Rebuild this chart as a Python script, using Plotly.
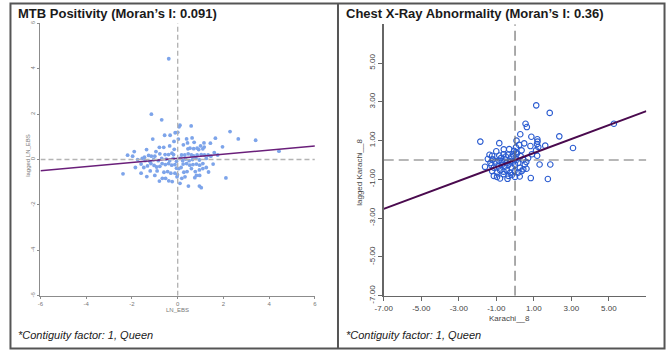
import plotly.graph_objects as go

W, H = 668, 358


def fx(p):
    return p / W


def fy(p):
    return 1 - p / H


# ---------------- data ----------------
left_x = [-0.39, -1.15, -0.70, 0.10, 0.06, 0.59, -0.11, 0.00, -0.57, -0.33,
          2.29, 2.65, 3.41, -1.09, 0.39, 0.63, 1.65, 0.03, -0.16, 0.43,
          0.72, 1.15, 1.43, 1.96, 4.43, -0.80, -0.61, -1.36, 0.45, 0.54,
          0.70, 0.85, 0.92, 1.10, 1.16, 1.00, -0.25, -0.18, -0.40, -0.55,
          -0.78, -1.00, -1.15, -1.27, -1.45, -1.55, -2.19, -1.97, 0.17, 0.31,
          0.46, 0.60, 0.70, 0.85, 1.03, 1.17, 1.33, -2.39, -1.60, -1.48,
          -1.32, -1.17, -1.03, -0.92, -0.78, -0.68, -0.54, -0.40, -0.26, -0.12,
          0.24, 0.39, 0.53, 0.67, 0.82, 0.96, 1.10, -1.20, -0.90, -0.60,
          -0.44, -0.30, -0.12, -0.01, 0.27, 0.41, 0.77, 0.95, 1.10, -0.67,
          -0.53, -0.39, -0.24, -0.03, 0.18, 0.32, 0.82, 0.96, 2.11, 0.47,
          0.95, 1.03, -1.75, -1.42, -1.22, -1.05, -0.85, -0.70, -0.50, -0.35,
          -0.20, -0.05, 0.10, 0.22, 0.35, 0.50, 0.65, 0.80, 0.95, 1.25,
          1.45, 1.60, 1.75, -1.85, -1.60, -1.35, -1.00, -0.80, 0.05, 0.15,
          -0.05, 0.60, 0.75, 1.25, 1.35, 1.55, -0.15, -0.35, 0.25, -1.90,
          -0.95, 0.10]
left_y = [4.44, 2.00, 1.75, 1.51, 1.44, 1.48, 1.18, 1.20, 1.07, 1.07,
          1.23, 0.91, 0.85, 0.90, 0.91, 0.95, 0.94, 0.90, 0.80, 0.73,
          0.76, 0.73, 0.72, 0.56, 0.37, 0.54, 0.54, 0.44, 0.47, 0.50,
          0.48, 0.50, 0.44, 0.47, 0.55, 0.60, 0.28, 0.22, 0.22, 0.22,
          0.25, 0.15, 0.15, 0.18, 0.10, 0.05, 0.19, 0.15, 0.20, 0.20,
          0.25, 0.20, 0.16, 0.20, 0.22, 0.20, 0.20, -0.63, -0.20, -0.35,
          -0.28, -0.18, -0.26, -0.33, -0.30, -0.18, -0.22, -0.18, -0.25, -0.22,
          -0.20, -0.18, -0.25, -0.22, -0.20, -0.25, -0.18, -0.50, -0.50, -0.56,
          -0.53, -0.60, -0.60, -0.67, -0.56, -0.53, -0.53, -0.46, -0.40, -0.83,
          -0.83, -0.94, -0.97, -0.76, -0.83, -0.76, -0.70, -0.70, -0.81, -1.17,
          -1.17, -1.24, 0.00, -0.05, -0.08, 0.00, -0.05, 0.05, 0.02, -0.05,
          0.05, -0.08, 0.05, -0.05, 0.02, -0.05, 0.00, 0.05, -0.02, 0.05,
          0.15, 0.30, 0.20, -0.35, -0.60, -0.75, -0.70, -0.95, -0.40, -0.35,
          -0.38, -0.40, -0.80, -0.35, -0.55, -0.20, 0.45, 0.60, 0.65, 0.35,
          0.35, -1.05]

right_x = [1.13, 1.85, 0.56, 0.63, 5.27, 0.28, 0.87, 2.36, -1.85, -0.84,
           0.08, 1.19, 1.20, 1.17, 1.24, 0.49, 0.22, 0.82, 1.61, 3.09,
           -0.31, -0.05, 0.05, -0.10, 0.10, -0.08, 1.12, 1.18, -1.36, -1.19,
           1.31, 1.88, 0.84, 1.75, 0.61, -1.22, -0.84, -0.61, -0.49, -0.38,
           -0.75, -0.52, -1.19, -1.31, -1.05, -0.87, -0.70, -0.44, -0.26, -0.09,
           0.09, 0.17, 0.44, 0.52, -1.26, -1.13, -0.87, -0.70, -0.52, -0.35,
           -0.17, 0.00, 0.26, 0.44, -1.22, -0.96, -0.79, -0.61, -0.44, -0.26,
           -0.03, 0.17, 0.35, -1.13, -0.96, -0.61, -0.35, -0.17, 0.00, -0.80,
           -0.40, 0.25, -1.60, -1.45, 0.70, 0.30, 0.90, -0.20, 0.60, -1.00,
           0.05, 0.35, -0.60]
right_y = [2.82, 2.43, 1.87, 1.70, 1.87, 1.33, 1.20, 1.22, 0.95, 0.87,
           1.00, 1.07, 0.95, 0.82, 0.67, 0.86, 0.78, 0.72, 0.74, 0.62,
           0.56, 0.47, 0.40, 0.30, 0.33, 0.22, 0.50, 0.22, 0.27, 0.03,
           -0.23, -0.23, -0.93, -0.98, -0.45, 0.22, 0.23, 0.30, 0.18, 0.27,
           0.10, 0.02, 0.02, -0.15, -0.07, -0.03, -0.07, -0.15, -0.07, -0.07,
           0.02, -0.15, 0.02, -0.23, -0.27, -0.40, -0.33, -0.25, -0.33, -0.25,
           -0.40, -0.25, -0.40, -0.48, -0.57, -0.65, -0.53, -0.60, -0.53, -0.65,
           -0.57, -0.65, -0.57, -0.82, -0.87, -0.73, -0.82, -0.77, -0.87, -0.95,
           -0.97, -0.85, -0.35, 0.05, 0.10, 0.20, 0.30, 0.15, -0.10, 0.45,
           0.65, 0.50, 0.55]

left_moran = 0.091
left_intercept = 0.05
right_moran = 0.36
right_intercept = 0.0

left_range = [-6, 6]
right_range = [-7, 7]
left_tickvals = [-6, -4, -2, 0, 2, 4, 6]
left_ticktext = ["-6", "-4", "-2", "0", "2", "4", "6"]
right_tickvals = [-7, -5, -3, -1, 1, 3, 5]
right_ticktext = ["-7.00", "-5.00", "-3.00", "-1.00", "1.00", "3.00", "5.00"]

left_title = "MTB Positivity (Moran\u2019s I: 0.091)"
right_title = "Chest X-Ray Abnormality (Moran\u2019s I: 0.36)"
left_xlabel = "LN_EBS"
left_ylabel = "lagged LN_EBS"
right_xlabel = "Karachi__8"
right_ylabel = "lagged Karachi__8"
footnote = "*Contiguity factor: 1, Queen"

FONT = "Liberation Sans"

fig = go.Figure()

fig.add_trace(go.Scatter(
    x=left_x, y=left_y, mode="markers", xaxis="x", yaxis="y",
    marker=dict(size=3.8, color="#7da4ea", line=dict(width=0)),
    showlegend=False, hoverinfo="skip"))
fig.add_trace(go.Scatter(
    x=left_range, y=[left_intercept + left_moran * v for v in left_range],
    mode="lines", xaxis="x", yaxis="y",
    line=dict(color="#6a1f7a", width=1.5), showlegend=False, hoverinfo="skip"))

fig.add_trace(go.Scatter(
    x=right_x, y=right_y, mode="markers", xaxis="x2", yaxis="y2",
    marker=dict(size=5.5, symbol="circle-open", color="#2a5bd0",
                line=dict(width=1.1, color="#2a5bd0")),
    showlegend=False, hoverinfo="skip"))
fig.add_trace(go.Scatter(
    x=right_range, y=[right_intercept + right_moran * v for v in right_range],
    mode="lines", xaxis="x2", yaxis="y2",
    line=dict(color="#4a0a4e", width=2), showlegend=False, hoverinfo="skip"))

left_axis_common = dict(
    showgrid=False, zeroline=False, showline=True, linecolor="#8c8c8c",
    linewidth=1, ticks="outside", ticklen=2, tickcolor="#8c8c8c",
    tickfont=dict(family=FONT, size=6, color="#777777"))
right_axis_common = dict(
    showgrid=False, zeroline=False, showline=True, linecolor="#666666",
    linewidth=1.3, ticks="outside", ticklen=4, tickcolor="#666666",
    tickfont=dict(family=FONT, size=8, color="#444444"))

fig.update_layout(
    autosize=True, margin=dict(l=0, r=0, t=0, b=0),
    paper_bgcolor="white", plot_bgcolor="white",
    xaxis=dict(domain=[fx(32), fx(311)], range=left_range, anchor="y",
               tickvals=left_tickvals, ticktext=left_ticktext, **left_axis_common),
    yaxis=dict(domain=[fy(302), fy(21)], range=left_range, anchor="x",
               tickvals=left_tickvals, ticktext=left_ticktext, tickangle=-90,
               **left_axis_common),
    xaxis2=dict(domain=[fx(381), fx(648)], range=right_range, anchor="y2",
                tickvals=right_tickvals, ticktext=right_ticktext, **right_axis_common),
    yaxis2=dict(domain=[fy(302), fy(22)], range=right_range, anchor="x2",
                tickvals=right_tickvals, ticktext=right_ticktext, tickangle=-90,
                **right_axis_common),
)

shapes = []
# zero reference lines
shapes.append(dict(type="line", xref="x", yref="y", x0=0, x1=0,
                   y0=left_range[0], y1=left_range[1],
                   line=dict(color="#b4b4b4", width=1.4, dash="5px,3px")))
shapes.append(dict(type="line", xref="x", yref="y", y0=0, y1=0,
                   x0=left_range[0], x1=left_range[1],
                   line=dict(color="#b4b4b4", width=1.4, dash="5px,3px")))
shapes.append(dict(type="line", xref="x2", yref="y2", x0=0, x1=0,
                   y0=right_range[0], y1=right_range[1],
                   line=dict(color="#707070", width=1.2, dash="10px,5px")))
shapes.append(dict(type="line", xref="x2", yref="y2", y0=0, y1=0,
                   x0=right_range[0], x1=right_range[1],
                   line=dict(color="#707070", width=1.2, dash="10px,5px")))
# panel borders
shapes.append(dict(type="rect", xref="paper", yref="paper", layer="above",
                   x0=fx(1.5), x1=fx(666.5), y0=fy(356.5), y1=fy(0.5),
                   line=dict(color="#555555", width=2)))
shapes.append(dict(type="line", xref="paper", yref="paper", layer="above",
                   x0=fx(334.5), x1=fx(334.5), y0=fy(356.5), y1=fy(0.5),
                   line=dict(color="#555555", width=2)))
fig.update_layout(shapes=shapes)

ann = []
ann.append(dict(text=f"<b>{left_title}</b>", x=fx(7), y=fy(11), xref="paper",
                yref="paper", xanchor="left", yanchor="middle", showarrow=False,
                font=dict(family=FONT, size=13, color="#1a1a1a")))
ann.append(dict(text=f"<b>{right_title}</b>", x=fx(341), y=fy(11), xref="paper",
                yref="paper", xanchor="left", yanchor="middle", showarrow=False,
                font=dict(family=FONT, size=13, color="#1a1a1a")))
ann.append(dict(text=left_xlabel, x=fx(171), y=fy(317), xref="paper", yref="paper",
                xanchor="center", yanchor="middle", showarrow=False,
                font=dict(family=FONT, size=6, color="#777777")))
ann.append(dict(text=left_ylabel, x=fx(20), y=fy(157), xref="paper", yref="paper",
                xanchor="center", yanchor="middle", showarrow=False, textangle=-90,
                font=dict(family=FONT, size=6, color="#777777")))
ann.append(dict(text=right_xlabel, x=fx(509), y=fy(325), xref="paper", yref="paper",
                xanchor="center", yanchor="middle", showarrow=False,
                font=dict(family=FONT, size=8, color="#444444")))
ann.append(dict(text=right_ylabel, x=fx(356), y=fy(175), xref="paper", yref="paper",
                xanchor="center", yanchor="middle", showarrow=False, textangle=-90,
                font=dict(family=FONT, size=8, color="#444444")))
ann.append(dict(text=f"<i>{footnote}</i>", x=fx(7), y=fy(343), xref="paper",
                yref="paper", xanchor="left", yanchor="middle", showarrow=False,
                font=dict(family=FONT, size=11, color="#1a1a1a")))
ann.append(dict(text=f"<i>{footnote}</i>", x=fx(341), y=fy(343), xref="paper",
                yref="paper", xanchor="left", yanchor="middle", showarrow=False,
                font=dict(family=FONT, size=11, color="#1a1a1a")))
fig.update_layout(annotations=ann)

fig.write_html(
    "out.html",
    config={"displayModeBar": False, "staticPlot": True, "responsive": False},
    default_width=f"{W}px;position:fixed;left:0px;top:0px;margin:0",
    default_height=f"{H}px",
    post_script=(
        "document.documentElement.style.margin='0';"
        "document.documentElement.style.overflow='hidden';"
        "document.body.style.margin='0';"
        "document.body.style.padding='0';"
        "document.body.style.overflow='hidden';"
    ),
)
